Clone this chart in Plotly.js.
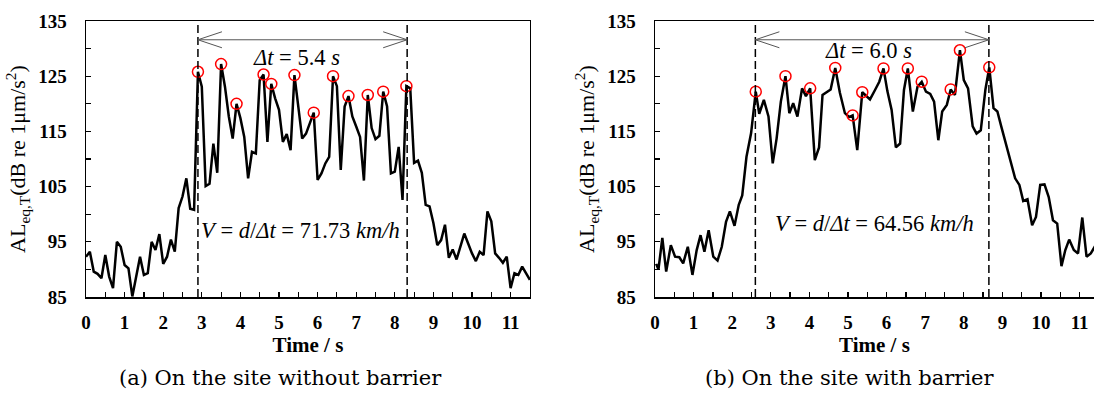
<!DOCTYPE html>
<html>
<head>
<meta charset="utf-8">
<script src="https://cdn.plot.ly/plotly-3.0.1.min.js"></script>
<style>html,body{margin:0;padding:0;background:#fff;}#chart{width:1094px;height:394px;}</style>
</head>
<body>
<div id="chart"></div>
<script>
// ---------- (a) site without barrier ----------
const timeA = [0.0,0.1,0.2,0.3,0.4,0.5,0.6,0.7,0.8,0.9,
  1.0,1.1,1.2,1.3,1.4,1.5,1.6,1.7,1.8,1.9,
  2.0,2.1,2.2,2.3,2.4,2.5,2.6,2.7,2.8,2.9,
  3.0,3.1,3.2,3.3,3.4,3.5,3.6,3.7,3.8,3.9,
  4.0,4.1,4.2,4.3,4.4,4.5,4.6,4.7,4.8,4.9,
  5.0,5.1,5.2,5.3,5.4,5.5,5.6,5.7,5.8,5.9,
  6.0,6.1,6.2,6.3,6.4,6.5,6.6,6.7,6.8,6.9,
  7.0,7.1,7.2,7.3,7.4,7.5,7.6,7.7,7.8,7.9,
  8.0,8.1,8.2,8.3,8.4,8.5,8.6,8.7,8.8,8.9,
  9.0,9.1,9.2,9.3,9.4,9.5,9.6,9.7,9.8,9.9,
  10.0,10.1,10.2,10.3,10.4,10.5,10.6,10.7,10.8,10.9,
  11.0,11.1,11.2,11.3,11.4,11.5];
const levelA = [92.3,93.2,89.6,89.2,88.4,92.6,88.7,86.6,95.0,94.1,
  90.8,90.2,85.1,88.7,92.3,89.0,89.3,95.0,93.5,96.4,
  91.0,92.3,95.4,93.2,101.1,103.2,106.5,101.0,100.8,125.8,
  123.1,105.1,105.5,112.8,107.5,127.2,123.1,117.7,113.7,120.0,
  117.4,114.0,106.5,111.3,111.0,124.3,125.3,113.1,123.6,121.0,
  118.9,113.1,114.5,111.6,125.2,119.5,113.7,114.6,116.4,118.4,
  106.2,107.4,109.2,110.4,125.0,123.2,108.0,119.5,121.4,117.7,
  115.9,114.0,106.1,121.6,115.6,113.6,114.2,122.2,119.5,107.4,
  107.7,112.2,102.6,123.2,122.8,109.3,109.7,107.5,101.7,101.4,
  98.4,94.4,95.3,98.1,92.1,93.6,91.8,94.4,96.5,94.7,
  92.9,91.5,93.2,92.6,100.5,98.7,92.9,92.1,91.2,92.3,
  86.6,89.3,89.0,90.5,89.3,88.1];
const peakTimesA = [2.9,3.5,3.9,4.6,4.8,5.4,5.9,6.4,6.8,7.3,7.7,8.3];
const passA = [2.9, 8.32];              // first / last axle peak (s)
const deltaTextA = "<i>Δt</i> = 5.4 <i>s</i>";
const speedTextA = "<i>V</i> = <i>d</i>/<i>Δt</i> = 71.73 <i>km/h</i>";
const captionA = "(a) On the site without barrier";

// ---------- (b) site with barrier ----------
const timeB = [0.03,0.09,0.19,0.29,0.41,0.52,0.63,0.73,0.85,0.97,
  1.08,1.18,1.28,1.39,1.51,1.62,1.73,1.84,1.94,2.06,
  2.17,2.26,2.37,2.49,2.61,2.70,2.82,2.94,3.05,3.15,
  3.26,3.38,3.48,3.58,3.69,3.81,3.91,4.02,4.14,4.25,
  4.34,4.45,4.55,4.67,4.79,4.92,5.03,5.12,5.24,5.37,
  5.47,5.57,5.70,5.81,5.92,6.02,6.13,6.24,6.35,6.45,
  6.55,6.68,6.80,6.91,7.02,7.13,7.23,7.34,7.44,7.56,
  7.66,7.77,7.90,8.00,8.11,8.23,8.33,8.44,8.56,8.66,
  8.77,8.87,8.97,9.09,9.21,9.33,9.44,9.54,9.65,9.77,
  9.87,9.98,10.09,10.20,10.31,10.42,10.53,10.63,10.73,10.85,
  10.96,11.07,11.18,11.29,11.40];
const levelB = [91.0,90.0,95.7,89.6,94.4,92.3,92.2,91.1,94.1,89.0,
  93.5,96.2,93.2,97.1,92.3,91.6,94.1,98.6,100.5,97.9,
  101.7,103.4,110.4,114.7,122.2,118.2,120.7,117.7,109.2,113.7,
  120.4,125.0,118.3,120.1,117.7,122.8,121.4,122.8,109.8,112.1,
  121.6,122.2,122.6,126.5,122.0,118.3,117.6,117.9,111.6,122.1,
  121.5,120.8,122.5,124.0,126.4,122.3,118.9,112.1,112.8,122.5,
  126.4,118.6,123.1,124.0,122.2,121.8,120.4,113.4,118.6,119.8,
  122.6,121.6,129.7,124.3,122.8,115.9,114.6,115.2,122.6,126.6,
  119.2,118.6,115.9,112.8,109.2,106.5,105.3,102.4,102.7,98.0,
  99.5,105.3,105.4,103.1,98.9,98.3,90.6,93.5,95.4,93.5,
  92.9,99.4,92.3,92.9,94.2];
const peakTimesB = [2.61,3.38,4.02,4.67,5.12,5.37,5.92,6.55,6.91,7.66,7.90,8.66];
const passB = [2.6, 8.65];
const deltaTextB = "<i>Δt</i> = 6.0 <i>s</i>";
const speedTextB = "<i>V</i> = <i>d</i>/<i>Δt</i> = 64.56 <i>km/h</i>";
const captionB = "(b) On the site with barrier";

const yTitle = "AL<sub>eq,T</sub>(dB re 1μm/s<sup>2</sup>)";
const xTitle = "Time / s";

// ---------- layout helpers ----------
const F = '"Liberation Serif", "Times New Roman", Times, serif';
const FC = '"DejaVu Serif", serif';
const W = 1094, H = 394;
const plotTop = 21, plotBottom = 297;
const yRange = [85, 135];
const pxPerSec = 38.6, pxPerDb = (plotBottom - plotTop) / (yRange[1] - yRange[0]);
const leftA = 86, leftB = 655;
const rangeA = [0, 11.5];
const rangeB = [0, (W - leftB) / pxPerSec];
const domA = [leftA / W, (leftA + rangeA[1] * pxPerSec) / W];
const domB = [leftB / W, 1];
const domY = [1 - plotBottom / H, 1 - plotTop / H];

function peaks(times, levels, peakTimes) {
  const px = [], py = [];
  peakTimes.forEach(pt => {
    let best = 0;
    times.forEach((t, i) => { if (Math.abs(t - pt) < Math.abs(times[best] - pt)) best = i; });
    px.push(times[best]); py.push(levels[best]);
  });
  return {x: px, y: py};
}
const pA = peaks(timeA, levelA, peakTimesA);
const pB = peaks(timeB, levelB, peakTimesB);

const lineStyle = {color: 'black', width: 2.5};
const peakMarker = {symbol: 'circle-open', size: 11, color: '#ff0000', line: {color: '#ff0000', width: 1.5}};

const traces = [
  {x: timeA, y: levelA, xaxis: 'x', yaxis: 'y', mode: 'lines', line: lineStyle, hoverinfo: 'skip'},
  {x: pA.x, y: pA.y, xaxis: 'x', yaxis: 'y', mode: 'markers', marker: peakMarker, hoverinfo: 'skip'},
  {x: timeB, y: levelB, xaxis: 'x2', yaxis: 'y2', mode: 'lines', line: lineStyle, hoverinfo: 'skip'},
  {x: pB.x, y: pB.y, xaxis: 'x2', yaxis: 'y2', mode: 'markers', marker: peakMarker, hoverinfo: 'skip'}
];

function xAxis(domain, range, anchor) {
  return {
    domain: domain, range: range, anchor: anchor, fixedrange: true,
    showline: true, linecolor: 'black', linewidth: 1.5, mirror: true,
    showgrid: false, zeroline: false,
    ticks: 'inside', ticklen: 5, tickwidth: 1.2, tickcolor: 'black',
    tick0: 0, dtick: 1,
    minor: {dtick: 0.5, ticks: 'inside', ticklen: 5, tickwidth: 1.2, tickcolor: 'black', showgrid: false},
    ticklabelstandoff: 8,
    tickfont: {family: F, size: 19, weight: 'bold', color: 'black'},
    title: {text: xTitle, font: {family: F, size: 21, weight: 'bold', color: 'black'}, standoff: 0}
  };
}
function yAxis(anchor, mirror) {
  return {
    domain: domY, range: yRange, anchor: anchor, fixedrange: true,
    showline: true, linecolor: 'black', linewidth: 1.5, mirror: mirror,
    showgrid: false, zeroline: false,
    ticks: 'inside', ticklen: 5, tickwidth: 1.2, tickcolor: 'black',
    tick0: 85, dtick: 10,
    minor: {dtick: 5, tick0: 85, ticks: 'inside', ticklen: 5, tickwidth: 1.2, tickcolor: 'black', showgrid: false},
    ticklabelstandoff: 14,
    tickfont: {family: F, size: 19, weight: 'bold', color: 'black'},
    title: {text: yTitle, font: {family: F, size: 22, color: 'black'}, standoff: 6}
  };
}

const arrowY = 131.6;
const headDx = 24 / pxPerSec, headDy = 8 / pxPerDb;
function passShapes(xr, yr, pass) {
  const s = [];
  pass.forEach(t => s.push({type: 'line', xref: xr, yref: yr + ' domain', x0: t, x1: t, y0: 0, y1: 1,
    line: {color: 'black', width: 1.5, dash: '8px,4px'}}));
  const a = pass[0], b = pass[1];
  s.push({type: 'line', xref: xr, yref: yr, x0: a, x1: b, y0: arrowY, y1: arrowY, line: {color: '#555', width: 1}});
  s.push({type: 'path', xref: xr, yref: yr, line: {color: '#555', width: 1},
    path: `M${a + headDx},${arrowY + headDy} L${a},${arrowY} L${a + headDx},${arrowY - headDy}`});
  s.push({type: 'path', xref: xr, yref: yr, line: {color: '#555', width: 1},
    path: `M${b - headDx},${arrowY + headDy} L${b},${arrowY} L${b - headDx},${arrowY - headDy}`});
  return s;
}

const textFont = {family: F, size: 22.5, color: 'black'};
const annotations = [
  {xref: 'x', yref: 'y', x: (passA[0] + passA[1]) / 2 - 0.15, y: 128.3, text: deltaTextA, showarrow: false, font: textFont},
  {xref: 'x', yref: 'y', x: (passA[0] + passA[1]) / 2 - 0.05, y: 97.1, text: speedTextA, showarrow: false, font: textFont},
  {xref: 'x2', yref: 'y2', x: (passB[0] + passB[1]) / 2 - 0.1, y: 129.7, text: deltaTextB, showarrow: false, font: textFont},
  {xref: 'x2', yref: 'y2', x: (passB[0] + passB[1]) / 2 + 0.05, y: 98.4, text: speedTextB, showarrow: false, font: textFont},
  {xref: 'paper', yref: 'paper', x: 280 / W, y: 1 - 378 / H, xanchor: 'center', yanchor: 'middle',
    text: captionA, showarrow: false, font: {family: FC, size: 21, color: 'black'}},
  {xref: 'paper', yref: 'paper', x: 850 / W, y: 1 - 378 / H, xanchor: 'center', yanchor: 'middle',
    text: captionB, showarrow: false, font: {family: FC, size: 21, color: 'black'}}
];

const layout = {
  width: W, height: H, autosize: false,
  margin: {l: 0, r: 0, t: 0, b: 0, pad: 0},
  paper_bgcolor: 'white', plot_bgcolor: 'white',
  showlegend: false,
  font: {family: F, color: 'black'},
  xaxis: xAxis(domA, rangeA, 'y'),
  yaxis: yAxis('x', true),
  xaxis2: xAxis(domB, rangeB, 'y2'),
  yaxis2: yAxis('x2', false),
  shapes: passShapes('x', 'y', passA).concat(passShapes('x2', 'y2', passB)),
  annotations: annotations
};

Plotly.newPlot('chart', traces, layout, {staticPlot: true, displayModeBar: false});
</script>
</body>
</html>
